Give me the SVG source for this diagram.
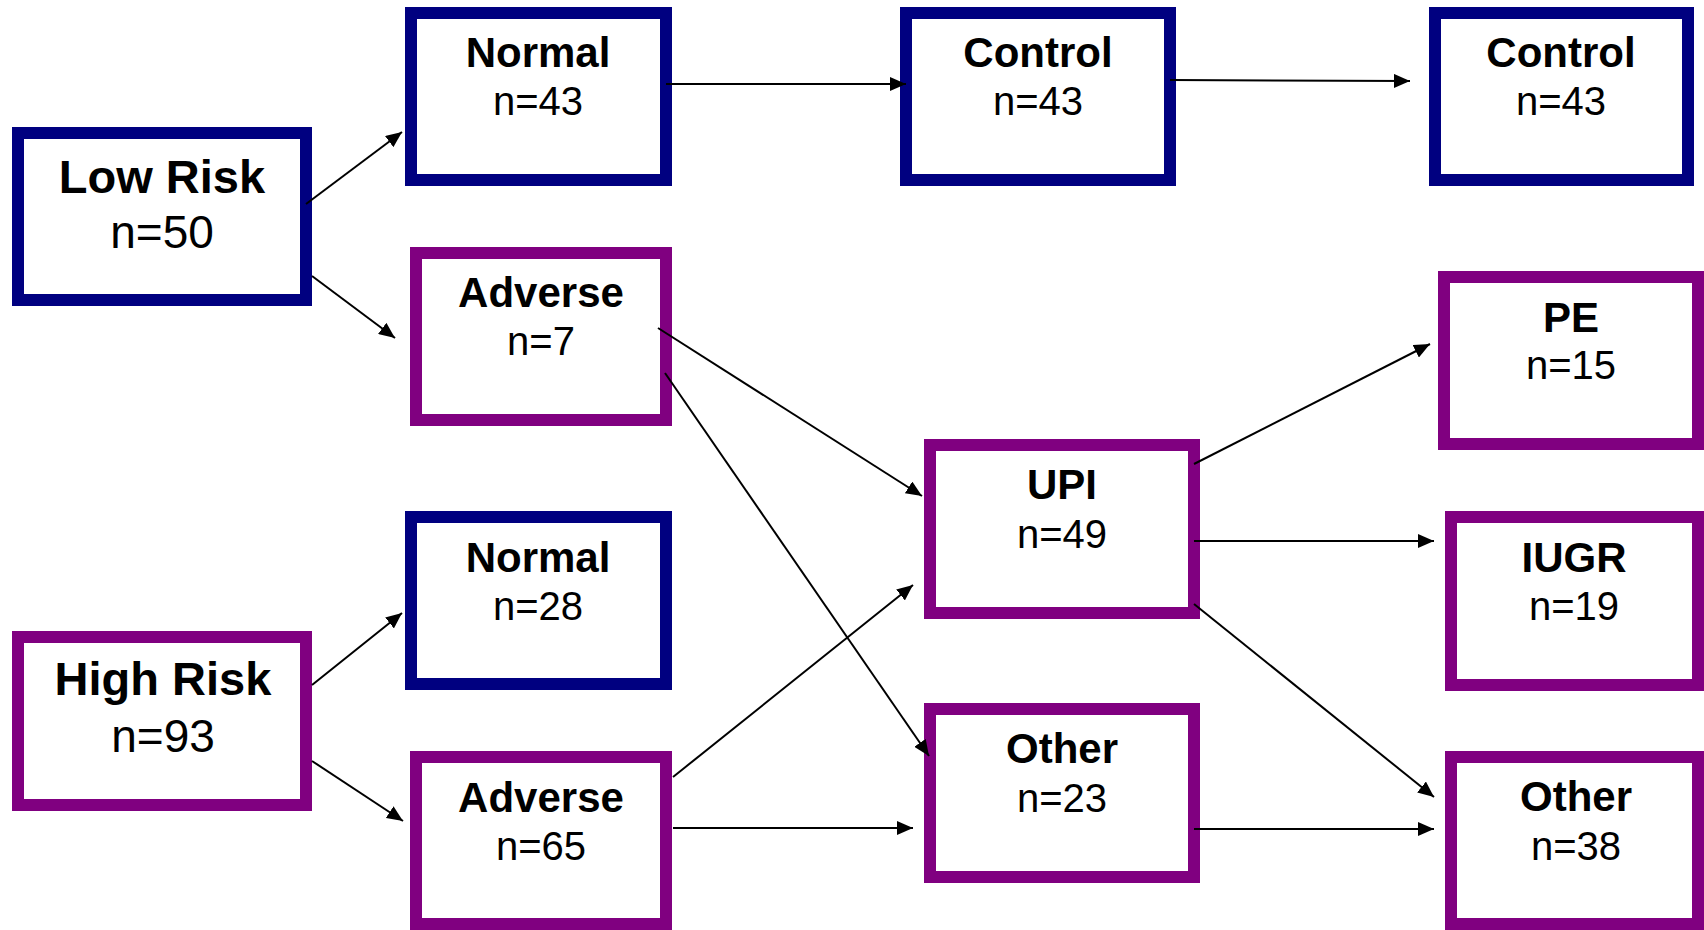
<svg xmlns="http://www.w3.org/2000/svg" width="1704" height="930" viewBox="0 0 1704 930">
  <style>
    .box { fill: #ffffff; stroke-width: 12; }
    .blue { stroke: #000080; }
    .purple { stroke: #800080; }
    .title { font-family: "Liberation Sans", Arial, sans-serif; font-weight: bold; font-size: 42px; text-anchor: middle; fill: #000; }
    .count { font-family: "Liberation Sans", Arial, sans-serif; font-size: 40px; text-anchor: middle; fill: #000; }
    .big.title { font-size: 47px; }
    .big.count { font-size: 46px; }
    .edge { stroke: #000; stroke-width: 2; fill: none; marker-end: url(#arrow); }
  </style>
  <defs>
    <marker id="arrow" markerUnits="userSpaceOnUse" markerWidth="16" markerHeight="14" refX="16" refY="7" orient="auto">
      <path d="M0,0 L16,7 L0,14 z" fill="#000"/>
    </marker>
  </defs>
  <rect width="1704" height="930" fill="#ffffff"/>

  <g id="low-risk">
    <rect class="box blue" x="18" y="133" width="288" height="167"/>
    <text class="title big" x="162" y="193">Low Risk</text>
    <text class="count big" x="162" y="248">n=50</text>
  </g>
  <g id="high-risk">
    <rect class="box purple" x="18" y="637" width="288" height="168"/>
    <text class="title big" x="163" y="695">High Risk</text>
    <text class="count big" x="163" y="752">n=93</text>
  </g>
  <g id="normal-low">
    <rect class="box blue" x="411" y="13" width="255" height="167"/>
    <text class="title" x="538" y="67">Normal</text>
    <text class="count" x="538" y="115">n=43</text>
  </g>
  <g id="adverse-low">
    <rect class="box purple" x="416" y="253" width="250" height="167"/>
    <text class="title" x="541" y="307">Adverse</text>
    <text class="count" x="541" y="355">n=7</text>
  </g>
  <g id="normal-high">
    <rect class="box blue" x="411" y="517" width="255" height="167"/>
    <text class="title" x="538" y="572">Normal</text>
    <text class="count" x="538" y="620">n=28</text>
  </g>
  <g id="adverse-high">
    <rect class="box purple" x="416" y="757" width="250" height="167"/>
    <text class="title" x="541" y="812">Adverse</text>
    <text class="count" x="541" y="860">n=65</text>
  </g>
  <g id="control-1">
    <rect class="box blue" x="906" y="13" width="264" height="167"/>
    <text class="title" x="1038" y="67">Control</text>
    <text class="count" x="1038" y="115">n=43</text>
  </g>
  <g id="upi">
    <rect class="box purple" x="930" y="445" width="264" height="168"/>
    <text class="title" x="1062" y="499">UPI</text>
    <text class="count" x="1062" y="548">n=49</text>
  </g>
  <g id="other-mid">
    <rect class="box purple" x="930" y="709" width="264" height="168"/>
    <text class="title" x="1062" y="763">Other</text>
    <text class="count" x="1062" y="812">n=23</text>
  </g>
  <g id="control-2">
    <rect class="box blue" x="1435" y="13" width="253" height="167"/>
    <text class="title" x="1561" y="67">Control</text>
    <text class="count" x="1561" y="115">n=43</text>
  </g>
  <g id="pe">
    <rect class="box purple" x="1444" y="277" width="254" height="167"/>
    <text class="title" x="1571" y="332">PE</text>
    <text class="count" x="1571" y="379">n=15</text>
  </g>
  <g id="iugr">
    <rect class="box purple" x="1451" y="517" width="247" height="168"/>
    <text class="title" x="1574" y="572">IUGR</text>
    <text class="count" x="1574" y="620">n=19</text>
  </g>
  <g id="other-right">
    <rect class="box purple" x="1451" y="757" width="247" height="167"/>
    <text class="title" x="1576" y="811">Other</text>
    <text class="count" x="1576" y="860">n=38</text>
  </g>

  <!-- connectors sit above the boxes so their tails show across the borders -->
  <g id="connectors">
    <line class="edge" x1="306" y1="204" x2="402" y2="132"/>
    <line class="edge" x1="312" y1="276" x2="395" y2="338"/>
    <line class="edge" x1="666" y1="84" x2="906" y2="84"/>
    <line class="edge" x1="1170" y1="80" x2="1410" y2="81"/>
    <line class="edge" x1="658" y1="328" x2="922" y2="496"/>
    <line class="edge" x1="665" y1="373" x2="929" y2="756"/>
    <line class="edge" x1="1194" y1="464" x2="1430" y2="344"/>
    <line class="edge" x1="1194" y1="541" x2="1434" y2="541"/>
    <line class="edge" x1="1194" y1="604" x2="1434" y2="797"/>
    <line class="edge" x1="1194" y1="829" x2="1434" y2="829"/>
    <line class="edge" x1="312" y1="685" x2="402" y2="613"/>
    <line class="edge" x1="312" y1="761" x2="403" y2="821"/>
    <line class="edge" x1="673" y1="777" x2="913" y2="585"/>
    <line class="edge" x1="673" y1="828" x2="913" y2="828"/>
  </g>
</svg>
